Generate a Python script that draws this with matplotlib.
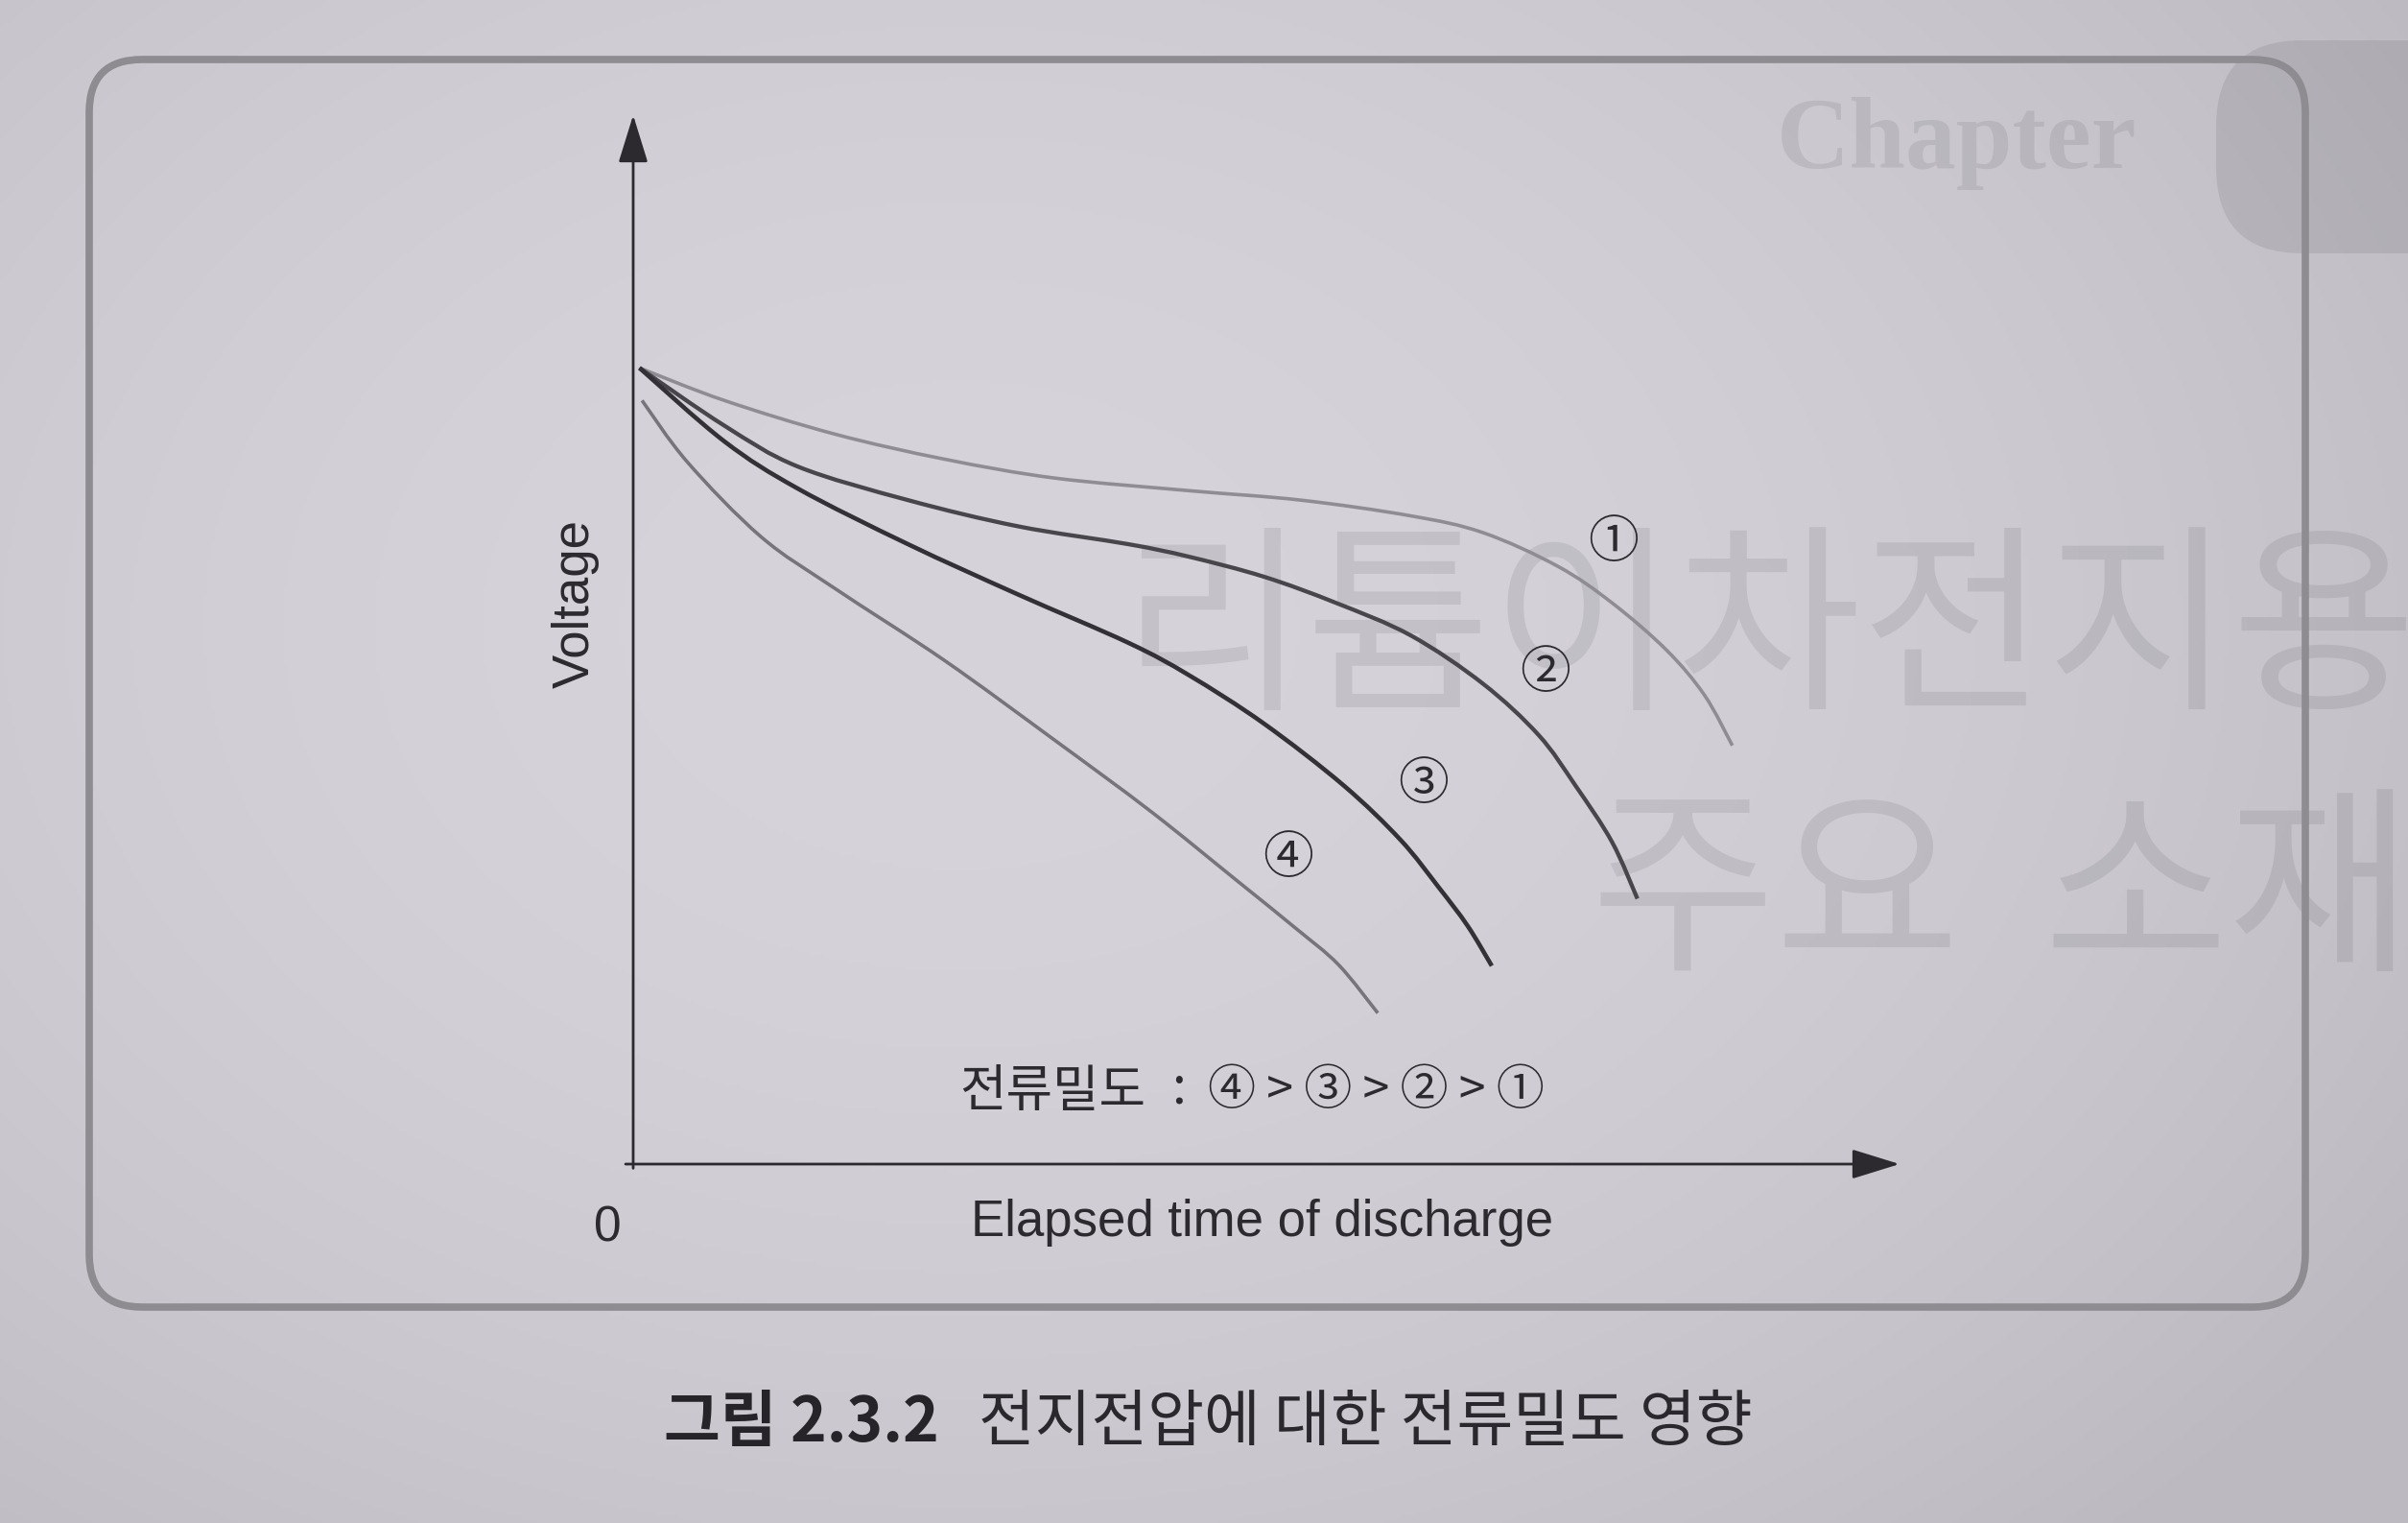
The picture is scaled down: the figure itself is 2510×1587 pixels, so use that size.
import numpy as np
import matplotlib.pyplot as plt
from matplotlib.patches import FancyBboxPatch, PathPatch
from matplotlib.path import Path

# discharge curves (time and voltage as % of axis length)
t1 = [0.5, 7.2, 15.9, 24.6, 33.3, 43.9, 52.7, 61.4, 67.1, 73.0, 77.3, 81.6, 84.6, 86.8]
v1 = [75.9, 72.8, 69.6, 67.2, 65.4, 64.2, 63.3, 61.8, 60.2, 57.0, 53.5, 49.0, 44.7, 39.9]

t2 = [0.5, 7.2, 13.0, 21.7, 30.4, 39.1, 43.9, 49.8, 55.5, 61.4, 67.1, 71.5, 74.4, 77.3, 79.3]
v2 = [75.9, 70.4, 66.5, 63.3, 60.8, 59.1, 57.9, 56.0, 53.5, 50.4, 45.8, 40.9, 36.1, 30.7, 25.3]

t3 = [0.5, 7.2, 13.0, 21.7, 30.4, 39.1, 43.9, 49.8, 56.1, 60.6, 63.6, 65.9, 67.8]
v3 = [75.9, 68.9, 64.4, 59.1, 54.3, 49.7, 46.6, 42.0, 36.1, 30.9, 26.4, 22.7, 18.9]

t4 = [0.7, 4.3, 10.1, 15.9, 24.6, 33.3, 40.9, 47.7, 52.3, 55.7, 58.8]
v4 = [72.8, 66.9, 59.8, 54.9, 48.0, 40.4, 33.6, 27.0, 22.5, 19.0, 14.4]

curve_colors = ['#8f8d93', '#48464b', '#333135', '#77757b']
curve_widths = [2.6, 3.1, 3.3, 2.6]

label_text = ['①', '②', '③', '④']
label_t = [77.4, 72.0, 62.4, 51.7]
label_v = [59.2, 46.8, 36.2, 29.1]

order_word = '전류밀도'
order_seq = '④ > ③ > ② > ①'
x_label = 'Elapsed time of discharge'
y_label = 'Voltage'
caption_num = '그림 2.3.2'
caption_text = '전지전압에 대한 전류밀도 영향'

plt.rcParams['font.family'] = ['Liberation Sans', 'Noto Sans CJK KR']
KR = ['Noto Sans CJK KR', 'DejaVu Sans']
ink = '#2c2a2e'
ghost = (0.25, 0.23, 0.27, 0.11)   # print showing through the page


def smooth(x, y):
    """Catmull-Rom curve through the sampled points, as a bezier path."""
    p = np.column_stack([x, y])
    verts, codes = [p[0]], [Path.MOVETO]
    n = len(p)
    for i in range(n - 1):
        p0, p1, p2, p3 = p[max(i - 1, 0)], p[i], p[i + 1], p[min(i + 2, n - 1)]
        verts += [p1 + (p2 - p0) / 6.0, p2 - (p3 - p1) / 6.0, p2]
        codes += [Path.CURVE4] * 3
    return Path(verts, codes)


W, H = 2510, 1587
fig = plt.figure(figsize=(W / 100, H / 100), dpi=100)

# page background, pixel coordinates
bg = fig.add_axes([0, 0, 1, 1])
bg.set_xlim(0, W)
bg.set_ylim(H, 0)
bg.axis('off')
yy, xx = np.mgrid[0:H:4, 0:W:4]
d = np.sqrt(((xx - 1000) / 1800.0) ** 2 + ((yy - 650) / 1300.0) ** 2)
base = np.array([214, 212, 218]) / 255.0
dark = np.array([188, 185, 192]) / 255.0
k = np.clip(d, 0, 1)[..., None] ** 2
img = base * (1 - k) + dark * k
bg.imshow(img, extent=(0, W, H, 0), aspect='auto', zorder=0)

bg.add_patch(FancyBboxPatch((2310, 42), 300, 222, boxstyle='round,pad=0,rounding_size=90',
                            fc=(0.3, 0.28, 0.32, 0.13), ec='none', zorder=1))
bg.text(2040, 150, 'Chapter', family='Liberation Serif', weight='bold', fontsize=76,
        color=ghost, ha='center', va='center', zorder=1)
bg.text(1168, 664, '리튬이차전지용', family=KR, fontsize=151, color=ghost,
        ha='left', va='center', zorder=1)
bg.text(1657, 936, '주요', family=KR, fontsize=151, color=ghost,
        ha='left', va='center', zorder=1)
bg.text(2129, 936, '소재', family=KR, fontsize=151, color=ghost,
        ha='left', va='center', zorder=1)

# rounded frame
bg.add_patch(FancyBboxPatch((93, 62), 2310, 1300, boxstyle='round,pad=0,rounding_size=55',
                            fc='none', ec='#8e8c91', lw=5.5, zorder=2))

# caption
bg.text(692, 1483, caption_num, family=KR, weight='bold', fontsize=46, color='#262428',
        ha='left', va='center', zorder=3)
bg.text(1020, 1483, caption_text, family=KR, weight='medium', fontsize=46, color='#2a282c',
        ha='left', va='center', zorder=3)

# chart
ax = fig.add_axes([660 / W, 1 - 1213 / H, 1320 / W, 1093 / H])
ax.set_xlim(0, 100)
ax.set_ylim(0, 100)
ax.patch.set_visible(False)
for s in ax.spines.values():
    s.set_visible(False)
ax.set_xticks([])
ax.set_yticks([])

arrow = dict(arrowstyle='-|>,head_length=1.55,head_width=0.48', lw=2.0, color=ink,
             shrinkA=0, shrinkB=0, mutation_scale=20)
ax.annotate('', xy=(0, 100), xytext=(0, -0.4), arrowprops=arrow, annotation_clip=False)
ax.annotate('', xy=(100, 0), xytext=(-0.6, 0), arrowprops=arrow, annotation_clip=False)

for t, v, c, w in zip([t1, t2, t3, t4], [v1, v2, v3, v4], curve_colors, curve_widths):
    ax.add_patch(PathPatch(smooth(t, v), fc='none', ec=c, lw=w, capstyle='butt',
                           joinstyle='round'))

for s, t, v in zip(label_text, label_t, label_v):
    ax.text(t, v, s, family=KR, fontsize=38, color=ink, ha='center', va='center')

ax.text(25.8, 6.95, order_word, family=KR, fontsize=38, color=ink, ha='left', va='center')
ax.text(43.1, 7.2, ':', family=KR, fontsize=38, color=ink, ha='center', va='center')
ax.text(45.4, 6.95, order_seq, family=KR, fontsize=36, color=ink, ha='left', va='center')

ax.text(-2.0, -6.1, '0', fontsize=37, color=ink, ha='center', va='center', clip_on=False)
ax.text(49.7, -5.6, x_label, fontsize=38, color=ink, ha='center', va='center', clip_on=False)
ax.text(-4.55, 53.4, y_label, fontsize=38, color=ink, rotation=90, ha='center', va='center',
        clip_on=False)

fig.savefig('out.png', dpi=100)
